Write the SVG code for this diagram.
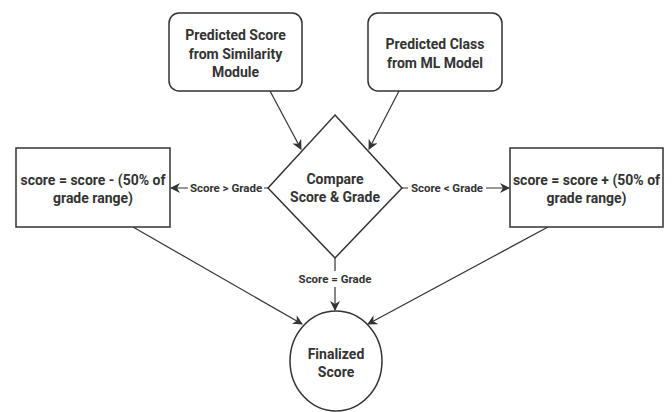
<svg xmlns="http://www.w3.org/2000/svg" width="672" height="412" viewBox="0 0 672 412">
<defs>
<style>
.s{fill:#fff;stroke:#333;stroke-width:1.5}
.t{font-family:Roboto,"Liberation Sans",sans-serif;font-weight:bold;font-size:14px;fill:#333;text-anchor:middle}
.l{font-family:Roboto,"Liberation Sans",sans-serif;font-weight:bold;font-size:11.5px;fill:#333;text-anchor:middle}
.c{fill:none;stroke:#333;stroke-width:1.2}
.bg{fill:#fff}
</style>
<marker id="a" viewBox="0 0 10 10" refX="9" refY="5" markerWidth="10" markerHeight="10" markerUnits="userSpaceOnUse" orient="auto">
<path d="M0,0 L10,5 L0,10 L3,5 Z" fill="#333"/>
</marker>
</defs>
<rect width="672" height="412" fill="#fff"/>
<g id="connectors">
<line class="c" x1="270" y1="91" x2="301" y2="149" marker-end="url(#a)"/>
<line class="c" x1="399" y1="91" x2="369" y2="149" marker-end="url(#a)"/>
<line class="c" x1="268" y1="188" x2="171" y2="188" marker-end="url(#a)"/>
<line class="c" x1="402" y1="188" x2="509" y2="188" marker-end="url(#a)"/>
<line class="c" x1="335" y1="258" x2="335" y2="310" marker-end="url(#a)"/>
<line class="c" x1="133" y1="227" x2="302" y2="324" marker-end="url(#a)"/>
<line class="c" x1="548" y1="227" x2="368" y2="324" marker-end="url(#a)"/>
<rect class="bg" x="188" y="180" width="76" height="16"/>
<text class="l" x="226" y="192">Score &gt; Grade</text>
<rect class="bg" x="408" y="180" width="78" height="16"/>
<text class="l" x="447" y="192">Score &lt; Grade</text>
<rect class="bg" x="295" y="271" width="80" height="16"/>
<text class="l" x="335" y="283">Score = Grade</text>
</g>
<g id="n1">
<rect class="s" x="169" y="13" width="133" height="78" rx="10"/>
<text class="t" x="235.5" y="40">Predicted Score</text>
<text class="t" x="235.5" y="58.5">from Similarity</text>
<text class="t" x="235.5" y="77">Module</text>
</g>
<g id="n2">
<rect class="s" x="368" y="13" width="134" height="78" rx="10"/>
<text class="t" x="435" y="49">Predicted Class</text>
<text class="t" x="435" y="67.5">from ML Model</text>
</g>
<g id="n3">
<polygon class="s" points="335,115 402,188 335,258 268,188"/>
<text class="t" x="335" y="184">Compare</text>
<text class="t" x="335" y="202">Score &amp; Grade</text>
</g>
<g id="n4">
<rect class="s" x="16" y="148" width="154" height="79"/>
<text class="t" x="93" y="185">score = score - (50% of</text>
<text class="t" x="93" y="203">grade range)</text>
</g>
<g id="n5">
<rect class="s" x="510" y="148" width="153" height="79"/>
<text class="t" x="586.5" y="185">score = score + (50% of</text>
<text class="t" x="586.5" y="203">grade range)</text>
</g>
<g id="n6">
<ellipse class="s" cx="336" cy="361" rx="46" ry="50"/>
<text class="t" x="336" y="359">Finalized</text>
<text class="t" x="336" y="377">Score</text>
</g>
</svg>
